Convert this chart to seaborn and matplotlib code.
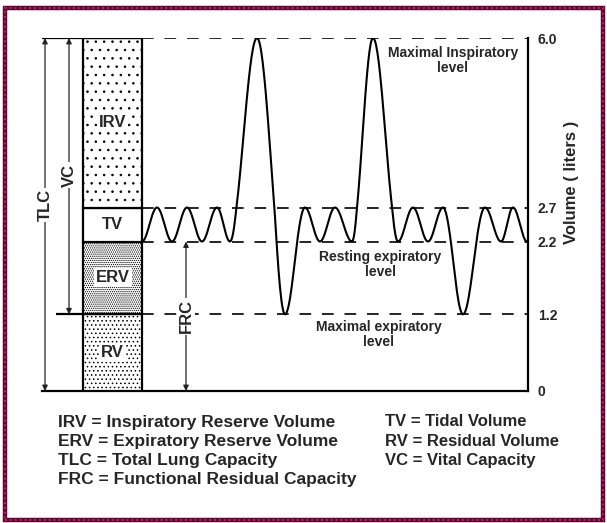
import numpy as np
import pandas as pd
import matplotlib
matplotlib.use("Agg")
import matplotlib.pyplot as plt
from matplotlib.patches import Rectangle
import seaborn as sns

sns.set_style("white")
plt.rcParams['font.family'] = ['Liberation Sans', 'DejaVu Sans']
plt.rcParams['font.weight'] = 'bold'
plt.rcParams['hatch.linewidth'] = 0.6
plt.rcParams['hatch.color'] = 'black'

# ================================
# DATA
# ================================

# lung compartments, bottom to top (liters)
compartments = ["RV", "ERV", "TV", "IRV"]
compartment_vol = [1.2, 1.0, 0.5, 3.3]
compartment_hatch = ["....", "........", "", ".."]

# volume levels shown on the right axis
level_vals = [0, 1.2, 2.2, 2.7, 6.0]
level_labels = ["0", "1.2", "2.2", "2.7", "6.0"]

# spirogram turning points (time in arbitrary units, volume in liters)
breath_t = [0, 15, 30, 45, 60, 75, 88, 115, 143, 163, 178, 193, 210,
            231, 256, 271, 286, 301, 321, 343, 359, 371, 385]
breath_v = [2.2, 2.7, 2.2, 2.7, 2.2, 2.7, 2.2, 6.0, 1.2, 2.7, 2.2, 2.7, 2.2,
            6.0, 2.2, 2.7, 2.2, 2.7, 1.2, 2.7, 2.2, 2.7, 2.2]

legend_left = ["IRV = Inspiratory Reserve Volume",
               "ERV = Expiratory Reserve Volume",
               "TLC = Total Lung Capacity",
               "FRC = Functional Residual Capacity"]
legend_right = ["TV = Tidal Volume",
                "RV = Residual Volume",
                "VC = Vital Capacity"]

# schematic (non linear) volume axis, as drawn in the picture
scale_vol = [-1.0, 0.0, 1.2, 2.2, 2.7, 6.0, 7.0]
scale_pos = [-65.0, 0.0, 76.7, 149.5, 183.5, 353.0, 404.0]


def fwd(v):
    return np.interp(v, scale_vol, scale_pos)


def inv(s):
    return np.interp(s, scale_pos, scale_vol)


# smooth curve through the turning points
curve_t, curve_v = [], []
for i in range(len(breath_t) - 1):
    s = np.linspace(0, 1, 40)
    ease = (1 - np.cos(np.pi * s)) / 2
    curve_t.extend(breath_t[i] + (breath_t[i + 1] - breath_t[i]) * s)
    curve_v.extend(breath_v[i] + (breath_v[i + 1] - breath_v[i]) * ease)
wave = pd.DataFrame({"time": curve_t, "volume": curve_v})

# ================================
# FIGURE
# ================================

fig = plt.figure(figsize=(6.07, 5.23), dpi=100)
ax = fig.add_axes([42 / 607, 132 / 523, 486 / 607, 353 / 523])
ax.set_yscale('function', functions=(fwd, inv))
ax.set_xlim(-100, 386)
ax.set_ylim(0, 6.0)

# stacked column
bottom = 0
for name, vol, h in zip(compartments, compartment_vol, compartment_hatch):
    ax.bar(-29.5, vol, width=59, bottom=bottom, color="white",
           edgecolor="black", linewidth=1.6, hatch=h, zorder=3)
    ax.text(-29.5, bottom + vol / 2, name, ha="center", va="center",
            fontsize=12, fontweight="bold", zorder=5,
            bbox=dict(facecolor="white", edgecolor="none", pad=1.5) if h else None)
    bottom += vol

# reference levels
for lv in [6.0, 2.7, 2.2, 1.2]:
    ax.plot([0, 386], [lv, lv], color="black", lw=1.2, dashes=(7, 6.5), zorder=1)
ax.plot([-100, 0], [6.0, 6.0], color="black", lw=1.6, solid_capstyle="butt", zorder=4)
ax.plot([-86, -59], [1.2, 1.2], color="black", lw=1.6, solid_capstyle="butt", zorder=4)

# spirogram
sns.lineplot(data=wave, x="time", y="volume", sort=False, color="black",
             lw=1.5, ax=ax, zorder=4)

# capacity arrows
arrow_kw = dict(arrowstyle="<|-|>", color="#222222", lw=0.9,
                mutation_scale=8, shrinkA=0, shrinkB=0)
ax.annotate("", xy=(-97, 0), xytext=(-97, 6.0), arrowprops=arrow_kw)
ax.annotate("", xy=(-73, 1.2), xytext=(-73, 6.0), arrowprops=arrow_kw)
ax.annotate("", xy=(44, 0), xytext=(44, 2.2), arrowprops=arrow_kw)
label_box = dict(facecolor="white", edgecolor="none", pad=1)
ax.text(-97, 2.75, "TLC", rotation=90, ha="center", va="center",
        fontsize=12, fontweight="bold", bbox=label_box)
ax.text(-73, 3.33, "VC", rotation=90, ha="center", va="center",
        fontsize=12, fontweight="bold", bbox=label_box)
ax.text(44, 1.17, "FRC", rotation=90, ha="center", va="center",
        fontsize=12, fontweight="bold", bbox=label_box)

# level captions
ax.text(311, 5.57, "Maximal Inspiratory\nlevel", ha="center", va="center",
        fontsize=10, fontweight="bold", linespacing=1.1)
ax.text(238, 1.88, "Resting expiratory\nlevel", ha="center", va="center",
        fontsize=10, fontweight="bold", linespacing=1.1)
ax.text(237, 0.88, "Maximal expiratory\nlevel", ha="center", va="center",
        fontsize=10, fontweight="bold", linespacing=1.1)

# axes styling
sns.despine(ax=ax, left=True, top=True, right=False)
ax.spines["right"].set_linewidth(1.6)
ax.spines["bottom"].set_linewidth(1.6)
ax.spines["right"].set_color("black")
ax.spines["bottom"].set_color("black")
ax.set_xticks([])
ax.yaxis.tick_right()
ax.set_yticks(level_vals)
ax.set_yticklabels(level_labels, fontsize=10, fontweight="bold")
ax.tick_params(axis="y", length=0, pad=7)
ax.yaxis.set_label_position("right")
ax.set_ylabel("Volume ( liters )", fontsize=12, fontweight="bold", rotation=90)
ax.yaxis.set_label_coords(1.075, 0.59)
ax.set_xlabel("")
ax.patch.set_alpha(0)

# abbreviations
for i, line in enumerate(legend_left):
    fig.text(58 / 607, 1 - (422 + 19.3 * i) / 523, line, fontsize=12.5,
             fontweight="bold", va="center")
for i, line in enumerate(legend_right):
    fig.text(385 / 607, 1 - (422 + 19.3 * i) / 523, line, fontsize=12,
             fontweight="bold", va="center")

# page border
fig.add_artist(Rectangle((5 / 607, 3 / 523), 598 / 607, 512 / 523,
                         transform=fig.transFigure, fill=False,
                         edgecolor="#5c0a30", lw=3.2))
fig.add_artist(Rectangle((5 / 607, 3 / 523), 598 / 607, 512 / 523,
                         transform=fig.transFigure, fill=False,
                         edgecolor="#d0157a", lw=1.4, linestyle=(0, (1, 1.5))))

fig.savefig("out.png", dpi=100)
